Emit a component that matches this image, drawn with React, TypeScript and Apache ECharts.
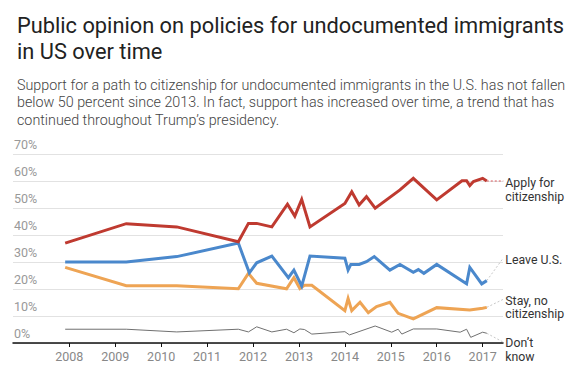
import React, { useEffect, useRef } from "react";
import * as echarts from "echarts";

const titleText = "Public opinion on policies for undocumented immigrants\nin US over time";
const subtitleText =
  "Support for a path to citizenship for undocumented immigrants in the U.S. has not fallen\nbelow 50 percent since 2013. In fact, support has increased over time, a trend that has\ncontinued throughout Trump\u2019s presidency.";

const yearTicks = [2008, 2009, 2010, 2011, 2012, 2013, 2014, 2015, 2016, 2017];
const yTicks = [0, 10, 20, 30, 40, 50, 60, 70];

const applyPoints: [number, number][] = [
  [2007.91, 37], [2009.24, 44.2], [2010.34, 43], [2011.68, 37.5], [2011.9, 44.3],
  [2012.08, 44.3], [2012.41, 43], [2012.75, 51.4], [2012.91, 47], [2013.06, 53.2],
  [2013.24, 43], [2014.0, 51.7], [2014.15, 56], [2014.31, 51.1], [2014.47, 54.2],
  [2014.66, 49.9], [2015.2, 56.7], [2015.49, 61], [2016.0, 53], [2016.55, 60.1],
  [2016.65, 60.1], [2016.72, 58.3], [2016.8, 59.8], [2017.0, 61], [2017.09, 60],
];

const leavePoints: [number, number][] = [
  [2007.91, 30], [2009.24, 30], [2010.34, 32], [2011.68, 37], [2011.92, 26],
  [2012.08, 29.7], [2012.41, 32.2], [2012.77, 24.2], [2012.89, 27], [2013.06, 21.1],
  [2013.24, 32.2], [2014.0, 31.4], [2014.07, 27], [2014.13, 29.1], [2014.31, 29.1],
  [2014.47, 30.1], [2014.64, 32], [2014.98, 27], [2015.2, 29.1], [2015.49, 26.2],
  [2015.6, 27.2], [2015.72, 25.8], [2016.0, 29.1], [2016.65, 21.9], [2016.72, 28],
  [2016.98, 21.9], [2017.09, 23.1],
];

const stayPoints: [number, number][] = [
  [2007.91, 28], [2009.24, 21.2], [2010.34, 21.2], [2011.68, 20.1], [2011.9, 25.8],
  [2012.08, 22.1], [2012.73, 20.1], [2012.89, 24.2], [2013.02, 20.2], [2013.12, 21.4],
  [2013.28, 21.4], [2014.0, 12], [2014.07, 16.5], [2014.15, 12], [2014.33, 15.1],
  [2014.51, 11.2], [2014.69, 13.5], [2014.98, 15.1], [2015.16, 11], [2015.49, 8.9],
  [2016.0, 13.1], [2016.72, 12.2], [2017.0, 12.9], [2017.09, 13.2],
];

const dontKnowPoints: [number, number][] = [
  [2007.91, 5.1], [2009.24, 5.1], [2010.34, 4.1], [2011.68, 5.1], [2011.9, 4.1],
  [2012.08, 6], [2012.41, 4.1], [2012.73, 5.1], [2012.89, 3.8], [2013.02, 5.2],
  [2013.12, 5], [2013.28, 3.3], [2014.0, 4.2], [2014.1, 3], [2014.66, 6.3],
  [2015.02, 4], [2015.16, 5.1], [2015.24, 3.3], [2015.49, 5.2], [2016.0, 5.2],
  [2016.51, 4], [2016.65, 5.1], [2016.74, 2.1], [2017.0, 4], [2017.09, 3.6],
];

// leader line end anchors (data space) for the right-hand labels
const applyLabelAnchor: [number, number] = [2017.45, 60];
const leaveLabelAnchor: [number, number] = [2017.45, 31.5];
const stayLabelAnchor: [number, number] = [2017.45, 16.2];
const dontKnowLabelAnchor: [number, number] = [2017.45, 0.3];

const seriesNames = ["Apply for\ncitizenship", "Leave U.S.", "Stay, no\ncitizenship", "Don\u2019t\nknow"];
const colors = ["#bf3a30", "#4a88cc", "#eea454", "#707070"];

const FONT = "Roboto, 'Noto Sans', sans-serif";

export default function App() {
  const ref = useRef<HTMLDivElement>(null);
  useEffect(() => {
    if (!ref.current) return;
    const chart = echarts.init(ref.current, null, { renderer: "svg" });

    const mainData = [applyPoints, leavePoints, stayPoints, dontKnowPoints];
    const anchors = [applyLabelAnchor, leaveLabelAnchor, stayLabelAnchor, dontKnowLabelAnchor];
    const labelOffsets = [[0, 9], [0, 2], [0, 8], [0, 8]];

    const mainSeries = mainData.map((d, i) => ({
      type: "line",
      name: seriesNames[i],
      data: d,
      showSymbol: false,
      symbol: "none",
      z: i === 3 ? 2 : 5 - i,
      lineStyle: { color: colors[i], width: i === 3 ? 1 : 3, join: "miter" },
      itemStyle: { color: colors[i] },
    }));

    const connectorSeries = mainData.map((d, i) => ({
      type: "line",
      name: "c" + i,
      data: [d[d.length - 1], anchors[i]],
      showSymbol: false,
      symbol: "none",
      clip: false,
      z: 1,
      lineStyle: {
        color: i === 0 ? "#d9575a" : "#c8c8c8",
        width: 1,
        type: [2, 2],
      },
      endLabel: {
        show: true,
        formatter: seriesNames[i],
        color: "#333",
        fontFamily: FONT,
        fontSize: 12.3,
        lineHeight: 13.5,
        distance: 2,
        offset: labelOffsets[i],
        align: "left",
        verticalAlign: "middle",
      },
    }));

    chart.setOption({
      animation: false,
      backgroundColor: "#fff",
      title: [
        {
          text: titleText,
          left: 12,
          top: 7,
          textStyle: {
            fontFamily: FONT,
            fontSize: 21.8,
            fontWeight: "normal",
            color: "#222",
            lineHeight: 26,
          },
        },
        {
          text: subtitleText,
          left: 12,
          top: 71,
          textStyle: {
            fontFamily: FONT,
            fontSize: 14.3,
            fontWeight: 300,
            color: "#444",
            lineHeight: 17.5,
          },
        },
      ],
      grid: { left: 13, right: 74, top: 154, bottom: 33, containLabel: false },
      xAxis: {
        type: "value",
        min: 2006.774,
        max: 2017.443,
        axisLine: { show: true, lineStyle: { color: "#111", width: 1.5 } },
        axisTick: {
          show: true,
          customValues: yearTicks,
          length: 4,
          lineStyle: { color: "#111", width: 1 },
        },
        axisLabel: {
          customValues: yearTicks,
          formatter: (v: number) => String(v),
          color: "#888",
          fontFamily: FONT,
          fontSize: 12.5,
          margin: 7,
        },
        splitLine: { show: false },
      },
      yAxis: {
        type: "value",
        min: 0,
        max: 70,
        interval: 10,
        axisLine: { show: false },
        axisTick: { show: false },
        axisLabel: {
          inside: true,
          margin: 1,
          verticalAlign: "bottom",
          padding: [0, 0, 3, 0],
          formatter: (v: number) => (yTicks.includes(v) ? v + "%" : ""),
          color: "#999",
          fontFamily: FONT,
          fontSize: 12.5,
        },
        splitLine: { show: true, lineStyle: { color: "#e2e2e2", width: 1 } },
      },
      series: [...connectorSeries, ...mainSeries],
    });

    return () => chart.dispose();
  }, []);

  return (
    <div
      ref={ref}
      style={{ position: "fixed", left: 0, top: 0, width: 577, height: 376, background: "#fff" }}
    />
  );
}
